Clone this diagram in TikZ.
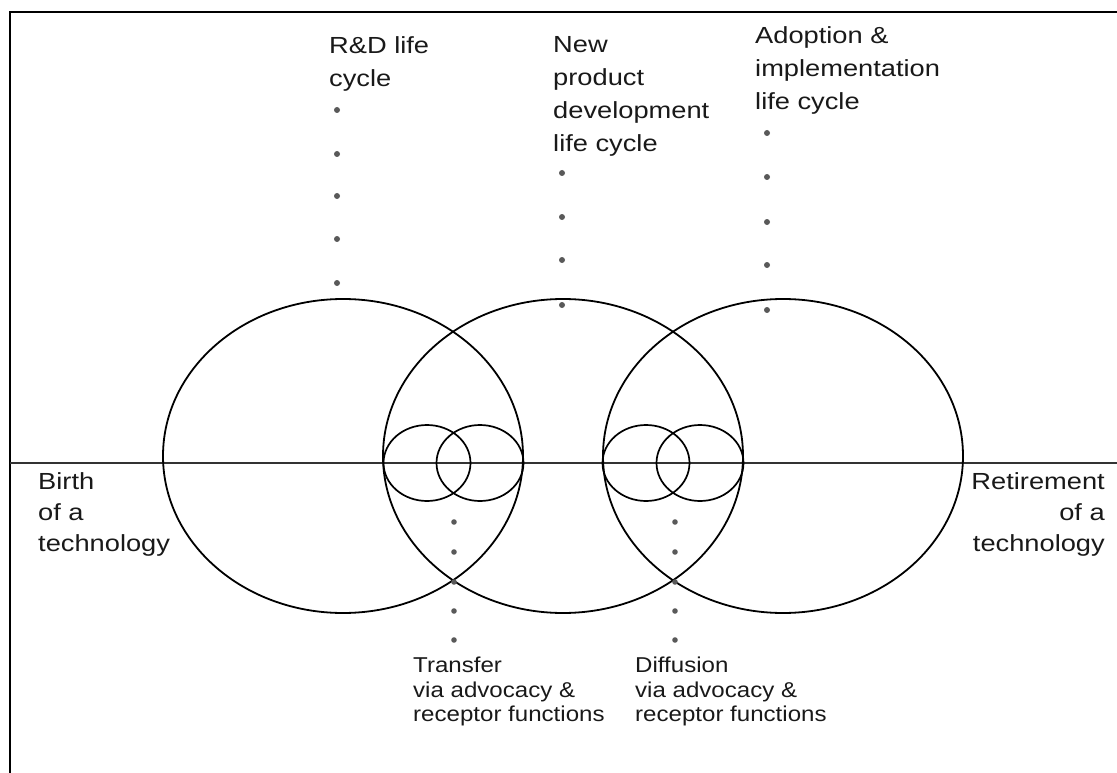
\documentclass[tikz,border=0pt]{standalone}
\usepackage{fontspec}
\setmainfont{Liberation Sans}
\newfontfamily\toplabelfont{Liberation Sans}[FakeStretch=1.17]
\newfontfamily\lowlabelfont{Liberation Sans}[FakeStretch=1.12]

\tikzset{
  lifecycle/.style={line width=1.8pt, draw=black},
  bridge/.style={line width=1.7pt, draw=black},
  axisline/.style={line width=1.2pt, draw=black!80},
  frameline/.style={line width=2pt, draw=black},
  stage/.style={inner sep=0pt, align=left, text=black!90,
                font=\toplabelfont\fontsize{23.3}{33}\selectfont},
  endpoint/.style={inner sep=0pt, text=black!90,
                font=\toplabelfont\fontsize{23.3}{31}\selectfont},
  handover/.style={inner sep=0pt, align=left, text=black!90,
                font=\lowlabelfont\fontsize{21.5}{24.5}\selectfont},
  dotmark/.style={fill=black!65}
}

\begin{document}
\begin{tikzpicture}[x=1pt, y=-1pt]
  \useasboundingbox (0,0) rectangle (1117,773);

  % frame (top and left edges)
  \coordinate (frameTR) at (1117,12);
  \coordinate (frameTL) at (10,12);
  \coordinate (frameBL) at (10,773);
  \draw[frameline] (frameTR) -- (frameTL) -- (frameBL);

  % time axis from birth to retirement
  \coordinate (axisL) at (10,463);
  \coordinate (axisR) at (1117,463);
  \draw[axisline] (axisL) -- (axisR);

  % three overlapping life cycles
  \draw[lifecycle] (343,456) ellipse [x radius=180pt, y radius=157pt];
  \draw[lifecycle] (563,456) ellipse [x radius=180pt, y radius=157pt];
  \draw[lifecycle] (783,456) ellipse [x radius=180pt, y radius=157pt];

  % transfer and diffusion overlaps
  \draw[bridge] (427,463) ellipse [x radius=43.5pt, y radius=38pt];
  \draw[bridge] (480,463) ellipse [x radius=43.5pt, y radius=38pt];
  \draw[bridge] (646,463) ellipse [x radius=43.5pt, y radius=38pt];
  \draw[bridge] (700,463) ellipse [x radius=43.5pt, y radius=38pt];

  % dotted leaders
  \foreach \y in {110,154,196,239,283} \fill[dotmark] (337,\y) circle[radius=3pt];
  \foreach \y in {173,217,260,305} \fill[dotmark] (562,\y) circle[radius=3pt];
  \foreach \y in {133,177,222,265,310} \fill[dotmark] (767,\y) circle[radius=3pt];
  \foreach \y in {522,552,582,611,640} {
    \fill[dotmark] (454,\y) circle[radius=2.8pt];
    \fill[dotmark] (675,\y) circle[radius=2.8pt];
  }

  % labels
  \node[stage, anchor=north west] (rd) at (329,36) {R\&D life\\cycle};
  \node[stage, anchor=north west] (npd) at (553,36) {New\\product\\development\\life cycle};
  \node[stage, anchor=north west] (adopt) at (755,26) {Adoption \&\\implementation\\life cycle};
  \node[endpoint, align=left, anchor=north west] (birth) at (38,472) {Birth\\of a\\technology};
  \node[endpoint, align=right, anchor=north east] (retire) at (1105,472) {Retirement\\of a\\technology};
  \node[handover, anchor=north west] (transfer) at (413,657) {Transfer\\via advocacy \&\\receptor functions};
  \node[handover, anchor=north west] (diffusion) at (635,657) {Diffusion\\via advocacy \&\\receptor functions};
\end{tikzpicture}
\end{document}
